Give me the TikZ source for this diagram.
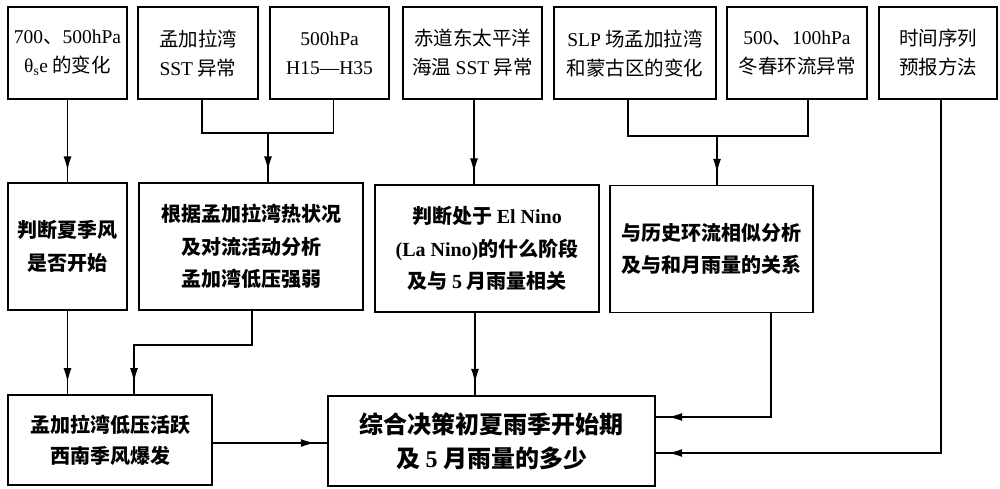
\documentclass[tikz,border=0pt]{standalone}
\usepackage{fontspec}
\setmainfont{Noto Sans CJK SC}
\newfontfamily\lat{Liberation Serif}
\usetikzlibrary{arrows.meta,decorations.markings,calc}
\begin{document}
\begin{tikzpicture}[x=1pt,y=-1pt,
  basebox/.style={draw, line width=1.3pt, inner sep=0pt, align=center},
  tbox/.style={basebox, minimum height=92pt, font=\fontsize{19.5}{29}\selectfont},
  mbox/.style={basebox, minimum height=127pt, font=\bfseries\fontsize{20}{32.5}\selectfont},
  lbox/.style={basebox, line width=1.8pt, minimum height=90pt, font=\bfseries\fontsize{20}{31}\selectfont},
  cbox/.style={basebox, line width=2.4pt, minimum height=90pt, font=\bfseries\fontsize{24}{34}\selectfont},
  conn/.style={line width=1.3pt},
  arrowed/.style={conn, postaction={decorate}, decoration={markings, mark=at position -12pt with {\arrow{Latex[length=14pt,width=8pt]}}}}
]
\useasboundingbox (0,0) rectangle (1000,488);

% top row
\node[tbox, minimum width=119pt] (B1) at (67.5,53) {{\lat 700}、{\lat 500hPa}\\{\lat θ\textsubscript{s}e} 的变化};
\node[tbox, minimum width=120pt] (B2) at (198,53) {孟加拉湾\\{\lat SST} 异常};
\node[tbox, minimum width=119pt] (B3) at (329.5,53) {{\lat 500hPa}\\{\lat H15—H35}};
\node[tbox, minimum width=139pt] (B4) at (472.5,53) {赤道东太平洋\\海温 {\lat SST} 异常};
\node[tbox, minimum width=162pt] (B5) at (635,53) {{\lat SLP} 场孟加拉湾\\和蒙古区的变化};
\node[tbox, minimum width=140pt] (B6) at (797,53) {{\lat 500}、{\lat 100hPa}\\冬春环流异常};
\node[tbox, minimum width=118pt] (B7) at (938,53) {时间序列\\预报方法};

% middle row
\node[mbox, minimum width=119pt] (M1) at (67.5,246.5) {判断夏季风\\是否开始};
\node[mbox, minimum width=224pt] (M2) at (251,246.5) {根据孟加拉湾热状况\\及对流活动分析\\孟加湾低压强弱};
\node[mbox, minimum width=224pt] (M3) at (487,248.5) {判断处于 {\lat El Nino}\\{\lat (La Nino)}的什么阶段\\及与 {\lat 5} 月雨量相关};
\node[mbox, minimum width=203pt] (M4) at (711.5,249) {与历史环流相似分析\\及与和月雨量的关系};

% bottom row
\node[lbox, minimum width=204pt] (L1) at (110,440) {孟加拉湾低压活跃\\西南季风爆发};
\node[cbox, minimum width=327pt] (C) at (491.5,441) {综合决策初夏雨季开始期\\及 {\lat 5} 月雨量的多少};

% coordinates of turning points
\coordinate (h23) at (268,133);
\coordinate (h56) at (717,136);
\coordinate (v2) at (134,345);
\coordinate (v3) at (475,0);
\coordinate (v4) at (771,417);
\coordinate (v7) at (941,453);

% connectors top -> middle
\draw[arrowed] (B1.south) -- (B1.south |- M1.north);
\draw[conn] ([xshift=4pt]B2.south) |- (h23) -| ([xshift=4pt]B3.south);
\draw[arrowed] (h23) -- (h23 |- M2.north);
\draw[arrowed] ([xshift=1.5pt]B4.south) -- ([xshift=1.5pt]B4.south |- M3.north);
\draw[conn] ([xshift=-7pt]B5.south) |- (h56) -| ([xshift=11pt]B6.south);
\draw[arrowed] (h56) -- (h56 |- M4.north);

% middle -> bottom
\draw[arrowed] (M1.south) -- (M1.south |- L1.north);
\draw[arrowed] ([xshift=1pt]M2.south) |- (v2) -- (v2 |- L1.north);
\draw[arrowed] (M3.south -| v3) -- (v3 |- C.north);
\draw[arrowed] (M4.south -| v4) -- (v4) -- (v4 -| C.east);
\draw[arrowed] (B7.south -| v7) -- (v7) -- (v7 -| C.east);
\draw[arrowed] ([yshift=-3pt]L1.east) -- ([yshift=-3pt]L1.east -| C.west);
\end{tikzpicture}
\end{document}
